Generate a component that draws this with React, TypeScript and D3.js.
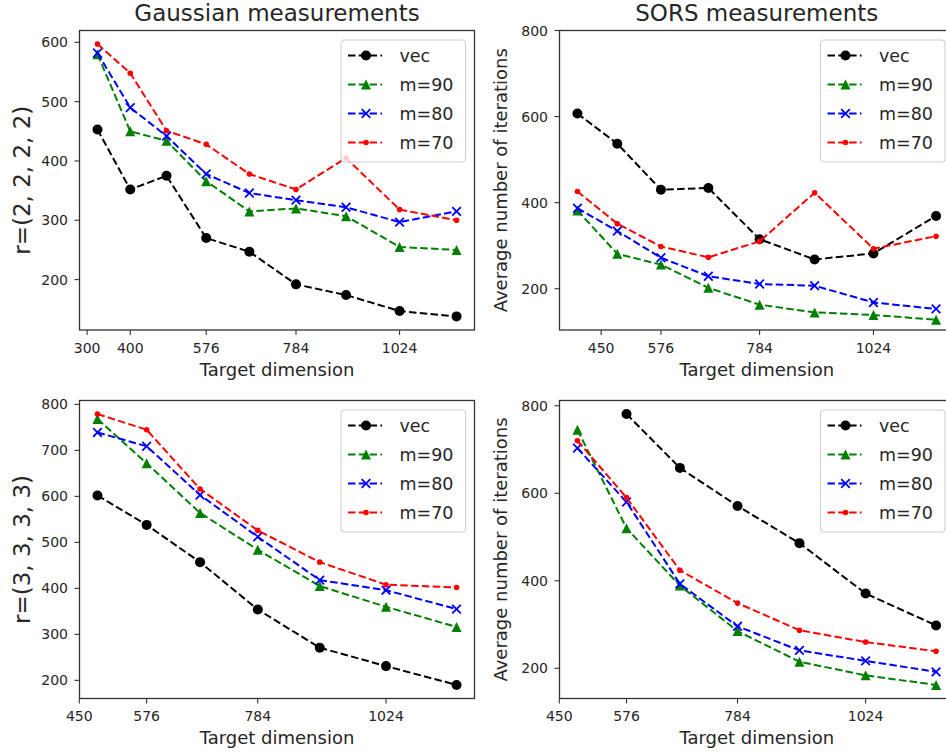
import * as d3 from "d3";
import { useEffect, useRef } from "react";

// target dimensions (x values)
const dimsGaussR2 = [324, 400, 484, 576, 676, 784, 900, 1024, 1156];
const dimsSorsR2 = [400, 484, 576, 676, 784, 900, 1024, 1156];
const dimsR3 = [484, 576, 676, 784, 900, 1024, 1156];
const dimsSorsR3Vec = [576, 676, 784, 900, 1024, 1156];

// Gaussian, r=(2,2,2,2)
const gaussR2Vec = [453, 352, 375, 270, 247, 192, 174, 147, 138];
const gaussR2M90 = [580, 450, 434, 366, 315, 320, 307, 255, 250];
const gaussR2M80 = [582, 490, 442, 378, 346, 334, 322, 297, 315];
const gaussR2M70 = [597, 548, 451, 428, 378, 352, 405, 318, 300];

// SORS, r=(2,2,2,2)
const sorsR2Vec = [607, 537, 430, 434, 315, 268, 282, 369];
const sorsR2M90 = [382, 281, 256, 202, 163, 145, 139, 128];
const sorsR2M80 = [387, 334, 272, 229, 211, 207, 168, 153];
const sorsR2M70 = [426, 351, 298, 273, 310, 423, 293, 322];

// Gaussian, r=(3,3,3,3)
const gaussR3Vec = [602, 538, 457, 354, 271, 231, 190];
const gaussR3M90 = [768, 672, 564, 484, 405, 360, 316];
const gaussR3M80 = [739, 709, 603, 512, 418, 396, 355];
const gaussR3M70 = [779, 745, 616, 526, 457, 408, 402];

// SORS, r=(3,3,3,3)
const sorsR3Vec = [781, 658, 571, 486, 371, 298];
const sorsR3M90 = [745, 520, 389, 285, 215, 184, 162];
const sorsR3M80 = [703, 580, 393, 296, 241, 217, 192];
const sorsR3M70 = [720, 590, 424, 349, 287, 260, 239];

const legendLabels = ["vec", "m=90", "m=80", "m=70"];
const seriesColors = ["#000000", "#008000", "#0000ff", "#ff0000"];
const seriesMarkers = ["o", "^", "x", "."];

const xTicksGaussR2 = [300, 400, 576, 784, 1024];
const xTicksOther = [450, 576, 784, 1024];
const yTicksGaussR2 = [200, 300, 400, 500, 600];
const yTicksGaussR3 = [200, 300, 400, 500, 600, 700, 800];
const yTicksSors = [200, 400, 600, 800];

const width = 946;
const height = 755;
const textColor = "#262626";
const cols = [{ x0: 79.5, x1: 474.5 }, { x0: 559.5, x1: 954 }];
const rows = [{ y0: 30.5, y1: 330 }, { y0: 400.5, y1: 698.5 }];

const panels = [
    {
        col: 0, row: 0, title: "Gaussian measurements", ylabel: "r=(2, 2, 2, 2)", bigLabel: true,
        xs: [dimsGaussR2, dimsGaussR2, dimsGaussR2, dimsGaussR2],
        ys: [gaussR2Vec, gaussR2M90, gaussR2M80, gaussR2M70],
        xTicks: xTicksGaussR2, yTicks: yTicksGaussR2, yTop: null as number | null,
    },
    {
        col: 1, row: 0, title: "SORS measurements", ylabel: "Average number of iterations", bigLabel: false,
        xs: [dimsSorsR2, dimsSorsR2, dimsSorsR2, dimsSorsR2],
        ys: [sorsR2Vec, sorsR2M90, sorsR2M80, sorsR2M70],
        xTicks: xTicksOther, yTicks: yTicksSors, yTop: 800,
    },
    {
        col: 0, row: 1, title: "", ylabel: "r=(3, 3, 3, 3)", bigLabel: true,
        xs: [dimsR3, dimsR3, dimsR3, dimsR3],
        ys: [gaussR3Vec, gaussR3M90, gaussR3M80, gaussR3M70],
        xTicks: xTicksOther, yTicks: yTicksGaussR3, yTop: null,
    },
    {
        col: 1, row: 1, title: "", ylabel: "Average number of iterations", bigLabel: false,
        xs: [dimsSorsR3Vec, dimsR3, dimsR3, dimsR3],
        ys: [sorsR3Vec, sorsR3M90, sorsR3M80, sorsR3M70],
        xTicks: xTicksOther, yTicks: yTicksSors, yTop: null,
    },
];

function padded(values: number[]): [number, number] {
    const [lo, hi] = d3.extent(values) as [number, number];
    const pad = (hi - lo) * 0.05;
    return [lo - pad, hi + pad];
}

function drawMarker(g: any, kind: string, color: string, x: number, y: number) {
    if (kind === "o") {
        g.append("circle").attr("cx", x).attr("cy", y).attr("r", 5).attr("fill", color);
    } else if (kind === "^") {
        const s = 5;
        g.append("path")
            .attr("d", `M${x},${y - s}L${x + s},${y + s}L${x - s},${y + s}Z`)
            .attr("fill", color);
    } else if (kind === "x") {
        const s = 4.3;
        g.append("path")
            .attr("d", `M${x - s},${y - s}L${x + s},${y + s}M${x - s},${y + s}L${x + s},${y - s}`)
            .attr("stroke", color)
            .attr("stroke-width", 1.8)
            .attr("fill", "none");
    } else {
        g.append("circle").attr("cx", x).attr("cy", y).attr("r", 2.8).attr("fill", color);
    }
}

function drawFigure(svgRef: React.RefObject<SVGSVGElement>) {
    const svg = d3.select(svgRef.current);
    svg.selectAll("*").remove();
    svg.append("rect").attr("width", width).attr("height", height).attr("fill", "white");

    panels.forEach(p => {
        const { x0, x1 } = cols[p.col];
        const { y0, y1 } = rows[p.row];
        const g = svg.append("g").style("font-family", "DejaVu Sans, sans-serif");

        const xDomain = padded(p.xs.flat());
        const yDomain = padded(p.ys.flat());
        if (p.yTop !== null) yDomain[1] = p.yTop;
        const x = d3.scaleLinear().domain(xDomain).range([x0, x1]);
        const y = d3.scaleLinear().domain(yDomain).range([y1, y0]);

        // series
        p.ys.forEach((vals, si) => {
            const pts = vals.map((v, i) => [x(p.xs[si][i]), y(v)] as [number, number]);
            g.append("path")
                .attr("d", d3.line()(pts))
                .attr("fill", "none")
                .attr("stroke", seriesColors[si])
                .attr("stroke-width", 2)
                .attr("stroke-dasharray", "7.5,3.3");
            pts.forEach(([px, py]) => drawMarker(g, seriesMarkers[si], seriesColors[si], px, py));
        });

        // frame
        g.append("rect")
            .attr("x", x0).attr("y", y0)
            .attr("width", x1 - x0).attr("height", y1 - y0)
            .attr("fill", "none").attr("stroke", "#333").attr("stroke-width", 1.3);

        // x ticks
        p.xTicks.forEach(t => {
            g.append("line").attr("x1", x(t)).attr("x2", x(t)).attr("y1", y1).attr("y2", y1 + 5)
                .attr("stroke", "#333").attr("stroke-width", 1.1);
            g.append("text").attr("x", x(t)).attr("y", y1 + 22.5)
                .attr("text-anchor", "middle").attr("fill", textColor)
                .style("font-size", "14px").text(t);
        });
        // y ticks
        p.yTicks.forEach(t => {
            g.append("line").attr("x1", x0 - 5).attr("x2", x0).attr("y1", y(t)).attr("y2", y(t))
                .attr("stroke", "#333").attr("stroke-width", 1.1);
            g.append("text").attr("x", x0 - 11.5).attr("y", y(t)).attr("dy", "0.36em")
                .attr("text-anchor", "end").attr("fill", textColor)
                .style("font-size", "14px").text(t);
        });

        // labels
        g.append("text").attr("x", (x0 + x1) / 2).attr("y", y1 + 45.5)
            .attr("text-anchor", "middle").attr("fill", textColor)
            .style("font-size", "18px").text("Target dimension");
        const ly = (y0 + y1) / 2;
        const lx = p.bigLabel ? x0 - 50 : x0 - 53;
        g.append("text")
            .attr("transform", `translate(${lx},${ly}) rotate(-90)`)
            .attr("text-anchor", "middle").attr("fill", textColor)
            .style("font-size", p.bigLabel ? "23px" : "18px").text(p.ylabel);
        if (p.title) {
            g.append("text").attr("x", (x0 + x1) / 2).attr("y", y0 - 10)
                .attr("text-anchor", "middle").attr("fill", textColor)
                .style("font-size", "23px").text(p.title);
        }

        // legend
        const bx = x1 - 133.5;
        const by = y0 + 9.5;
        const leg = g.append("g");
        leg.append("rect").attr("x", bx).attr("y", by).attr("width", 124.5).attr("height", 122)
            .attr("rx", 3).attr("fill", "white").attr("fill-opacity", 0.8)
            .attr("stroke", "#cccccc").attr("stroke-width", 1);
        legendLabels.forEach((lab, i) => {
            const ry = by + 15.5 + i * 29;
            leg.append("line").attr("x1", bx + 7).attr("x2", bx + 41).attr("y1", ry).attr("y2", ry)
                .attr("stroke", seriesColors[i]).attr("stroke-width", 2)
                .attr("stroke-dasharray", "7.5,3.3");
            drawMarker(leg, seriesMarkers[i], seriesColors[i], bx + 25, ry);
            leg.append("text").attr("x", bx + 58.5).attr("y", ry).attr("dy", "0.36em")
                .attr("fill", textColor).style("font-size", "17.5px").text(lab);
        });
    });
}

export default function App() {
    const svgRef = useRef<SVGSVGElement>(null);
    useEffect(() => {
        drawFigure(svgRef);
    }, [svgRef]);

    return (
        <svg ref={svgRef} width={width} height={height}
            style={{ position: "absolute", left: 0, top: 0, display: "block" }} />
    );
}
